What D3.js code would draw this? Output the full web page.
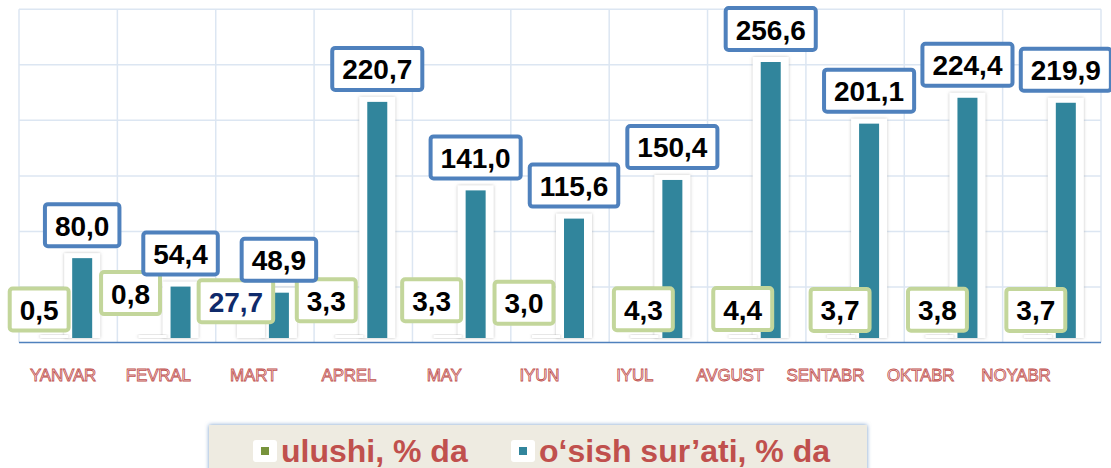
<!DOCTYPE html>
<html>
<head>
<meta charset="utf-8">
<script src="https://cdn.jsdelivr.net/npm/d3@7"></script>
<style>
  body { margin: 0; background: #fff; }
  text { font-family: "Liberation Sans", Arial, sans-serif; }
</style>
</head>
<body>
<div id="chart"></div>
<script>
const months = ['YANVAR', 'FEVRAL', 'MART', 'APREL', 'MAY', 'IYUN', 'IYUL', 'AVGUST', 'SENTABR', 'OKTABR', 'NOYABR'];
const share = [0.5, 0.8, 27.7, 3.3, 3.3, 3.0, 4.3, 4.4, 3.7, 3.8, 3.7];
const growth = [80.0, 54.4, 48.9, 220.7, 141.0, 115.6, 150.4, 256.6, 201.1, 224.4, 219.9];
const yTicks = [0, 50, 100, 150, 200, 250, 300];
const seriesNames = ['ulushi, % da', 'o\u2018sish sur\u2019ati, % da'];

// hand-moved share labels in the original (dx, dy)
const shareNudge = [[-15, -4], [-22, -20], [-15, 18], [-23, -10], [-16, -10], [-22, -8], [-1, 0], [0, 0], [-1, 0], [-2, 0], [-2, 0]];

const width = 1111, height = 468;
const teal = '#31859c', boxBlue = '#4f81bd', boxGreen = '#c3d69b', red = '#c0504d';

const svg = d3.select('#chart')
              .append('svg')
              .attr('width', width)
              .attr('height', height);

const defs = svg.append('defs');
const shadow = defs.append('filter').attr('id', 'shadow')
                   .attr('x', '-50%').attr('y', '-10%').attr('width', '200%').attr('height', '120%');
shadow.append('feDropShadow').attr('dx', 0).attr('dy', 0).attr('stdDeviation', 1.6)
      .attr('flood-color', '#8a8a8a').attr('flood-opacity', 0.55);
const glow = defs.append('filter').attr('id', 'glow')
                 .attr('x', '-5%').attr('y', '-50%').attr('width', '110%').attr('height', '200%');
glow.append('feDropShadow').attr('dx', 0).attr('dy', 0).attr('stdDeviation', 2)
    .attr('flood-color', '#4f81bd').attr('flood-opacity', 0.8);

const x = d3.scaleBand().domain(months).range([19, 1101]);
const y = d3.scaleLinear().domain([0, 300]).range([347, 13.8]);
const labelX = d3.scalePoint().domain(months).range([63, 1016]);
const bw = x.bandwidth();
const barW = 20, barOff = 14;
const barBottom = y(0) - 9;
const gridShift = -4.5;

const fmt = d3.formatLocale({decimal: ',', thousands: ' ', grouping: [3], currency: ['', '']}).format('.1f');

// grid
const grid = svg.append('g').attr('transform', 'translate(0,' + gridShift + ')');
grid.selectAll('line.h')
    .data(yTicks.slice(1))
    .enter().append('line')
    .attr('x1', 19).attr('x2', 1101)
    .attr('y1', d => y(d)).attr('y2', d => y(d))
    .style('stroke', '#dce6f2').style('stroke-width', 1.5);
grid.selectAll('line.v')
    .data(months.concat(['end']))
    .enter().append('line')
    .attr('x1', (d, i) => 19 + i * bw).attr('x2', (d, i) => 19 + i * bw)
    .attr('y1', y(300)).attr('y2', y(0))
    .style('stroke', '#dce6f2').style('stroke-width', 1.5);

const rows = months.map((m, i) => ({m: m, share: share[i], growth: growth[i], i: i}));

// white columns with soft shadow behind the bars
svg.selectAll('rect.back')
   .data(rows)
   .enter().append('rect')
   .attr('x', d => x(d.m) + bw / 2 + barOff - barW / 2 - 8)
   .attr('y', d => y(d.growth) - 5)
   .attr('width', barW + 16)
   .attr('height', d => barBottom - y(d.growth) + 5)
   .style('fill', '#fff')
   .attr('filter', 'url(#shadow)');

svg.selectAll('rect.share')
   .data(rows)
   .enter().append('rect')
   .attr('x', d => x(d.m) + bw / 2 - barOff - barW / 2 - 4)
   .attr('y', d => Math.min(y(d.share), barBottom - 3))
   .attr('width', barW + 8)
   .attr('height', d => barBottom - Math.min(y(d.share), barBottom - 3))
   .style('fill', '#fff')
   .attr('filter', 'url(#shadow)');

svg.selectAll('rect.growth')
   .data(rows)
   .enter().append('rect')
   .attr('x', d => x(d.m) + bw / 2 + barOff - barW / 2)
   .attr('y', d => y(d.growth))
   .attr('width', barW)
   .attr('height', d => barBottom - y(d.growth))
   .style('fill', teal);

// axis line
svg.append('line')
   .attr('x1', 19).attr('x2', 1101)
   .attr('y1', y(0) + gridShift).attr('y2', y(0) + gridShift)
   .style('stroke', boxBlue).style('stroke-width', 1.6);

// month labels
svg.selectAll('text.month')
   .data(months)
   .enter().append('text')
   .attr('x', d => labelX(d))
   .attr('y', 381)
   .attr('text-anchor', 'middle')
   .style('font-size', '17px')
   .style('fill', '#fbeaea')
   .style('stroke', red)
   .style('stroke-width', 0.8)
   .style('letter-spacing', '-0.2px')
   .text(d => d);

// boxed value labels
function boxLabel(g, cx, bottom, txt, stroke, color) {
  const t = g.append('text')
             .attr('x', cx)
             .attr('text-anchor', 'middle')
             .style('font-size', '28px')
             .style('font-weight', 'bold')
             .style('fill', color)
             .text(txt);
  const tw = t.node().getComputedTextLength();
  const bh = 46, bwid = tw + 24;
  g.insert('rect', 'text')
   .attr('x', cx - bwid / 2 + 2)
   .attr('y', bottom - bh + 2)
   .attr('width', bwid - 4)
   .attr('height', bh - 4)
   .attr('rx', 3)
   .style('fill', '#fff')
   .style('stroke', stroke)
   .style('stroke-width', 4);
  t.attr('y', bottom - bh + 33.5);
}

rows.forEach(d => {
  const gs = svg.append('g');
  const cx = x(d.m) + bw / 2 - barOff + shareNudge[d.i][0];
  const bottom = y(d.share) - 10 + shareNudge[d.i][1];
  boxLabel(gs, cx, bottom, fmt(d.share), boxGreen, d.share > 10 ? '#0f2a6b' : '#000');
});

rows.forEach(d => {
  const gg = svg.append('g');
  boxLabel(gg, x(d.m) + bw / 2 + barOff, y(d.growth) - 10, fmt(d.growth), boxBlue, '#000');
});

// legend
const legend = svg.append('g');
legend.append('rect')
      .attr('x', 209).attr('y', 425)
      .attr('width', 658).attr('height', 60)
      .style('fill', '#eeebe1')
      .attr('filter', 'url(#glow)');

const legX = [253, 511];
const legColors = ['#77933c', teal];
seriesNames.forEach((name, i) => {
  legend.append('rect')
        .attr('x', legX[i]).attr('y', 440)
        .attr('width', 24).attr('height', 22).attr('rx', 3)
        .style('fill', '#fff');
  legend.append('rect')
        .attr('x', legX[i] + 8).attr('y', 447)
        .attr('width', 8).attr('height', 8)
        .style('fill', legColors[i]);
  legend.append('text')
        .attr('x', legX[i] + 28).attr('y', 462)
        .style('font-size', '32px')
        .style('font-weight', 'bold')
        .style('fill', red)
        .text(name);
});
</script>
</body>
</html>
